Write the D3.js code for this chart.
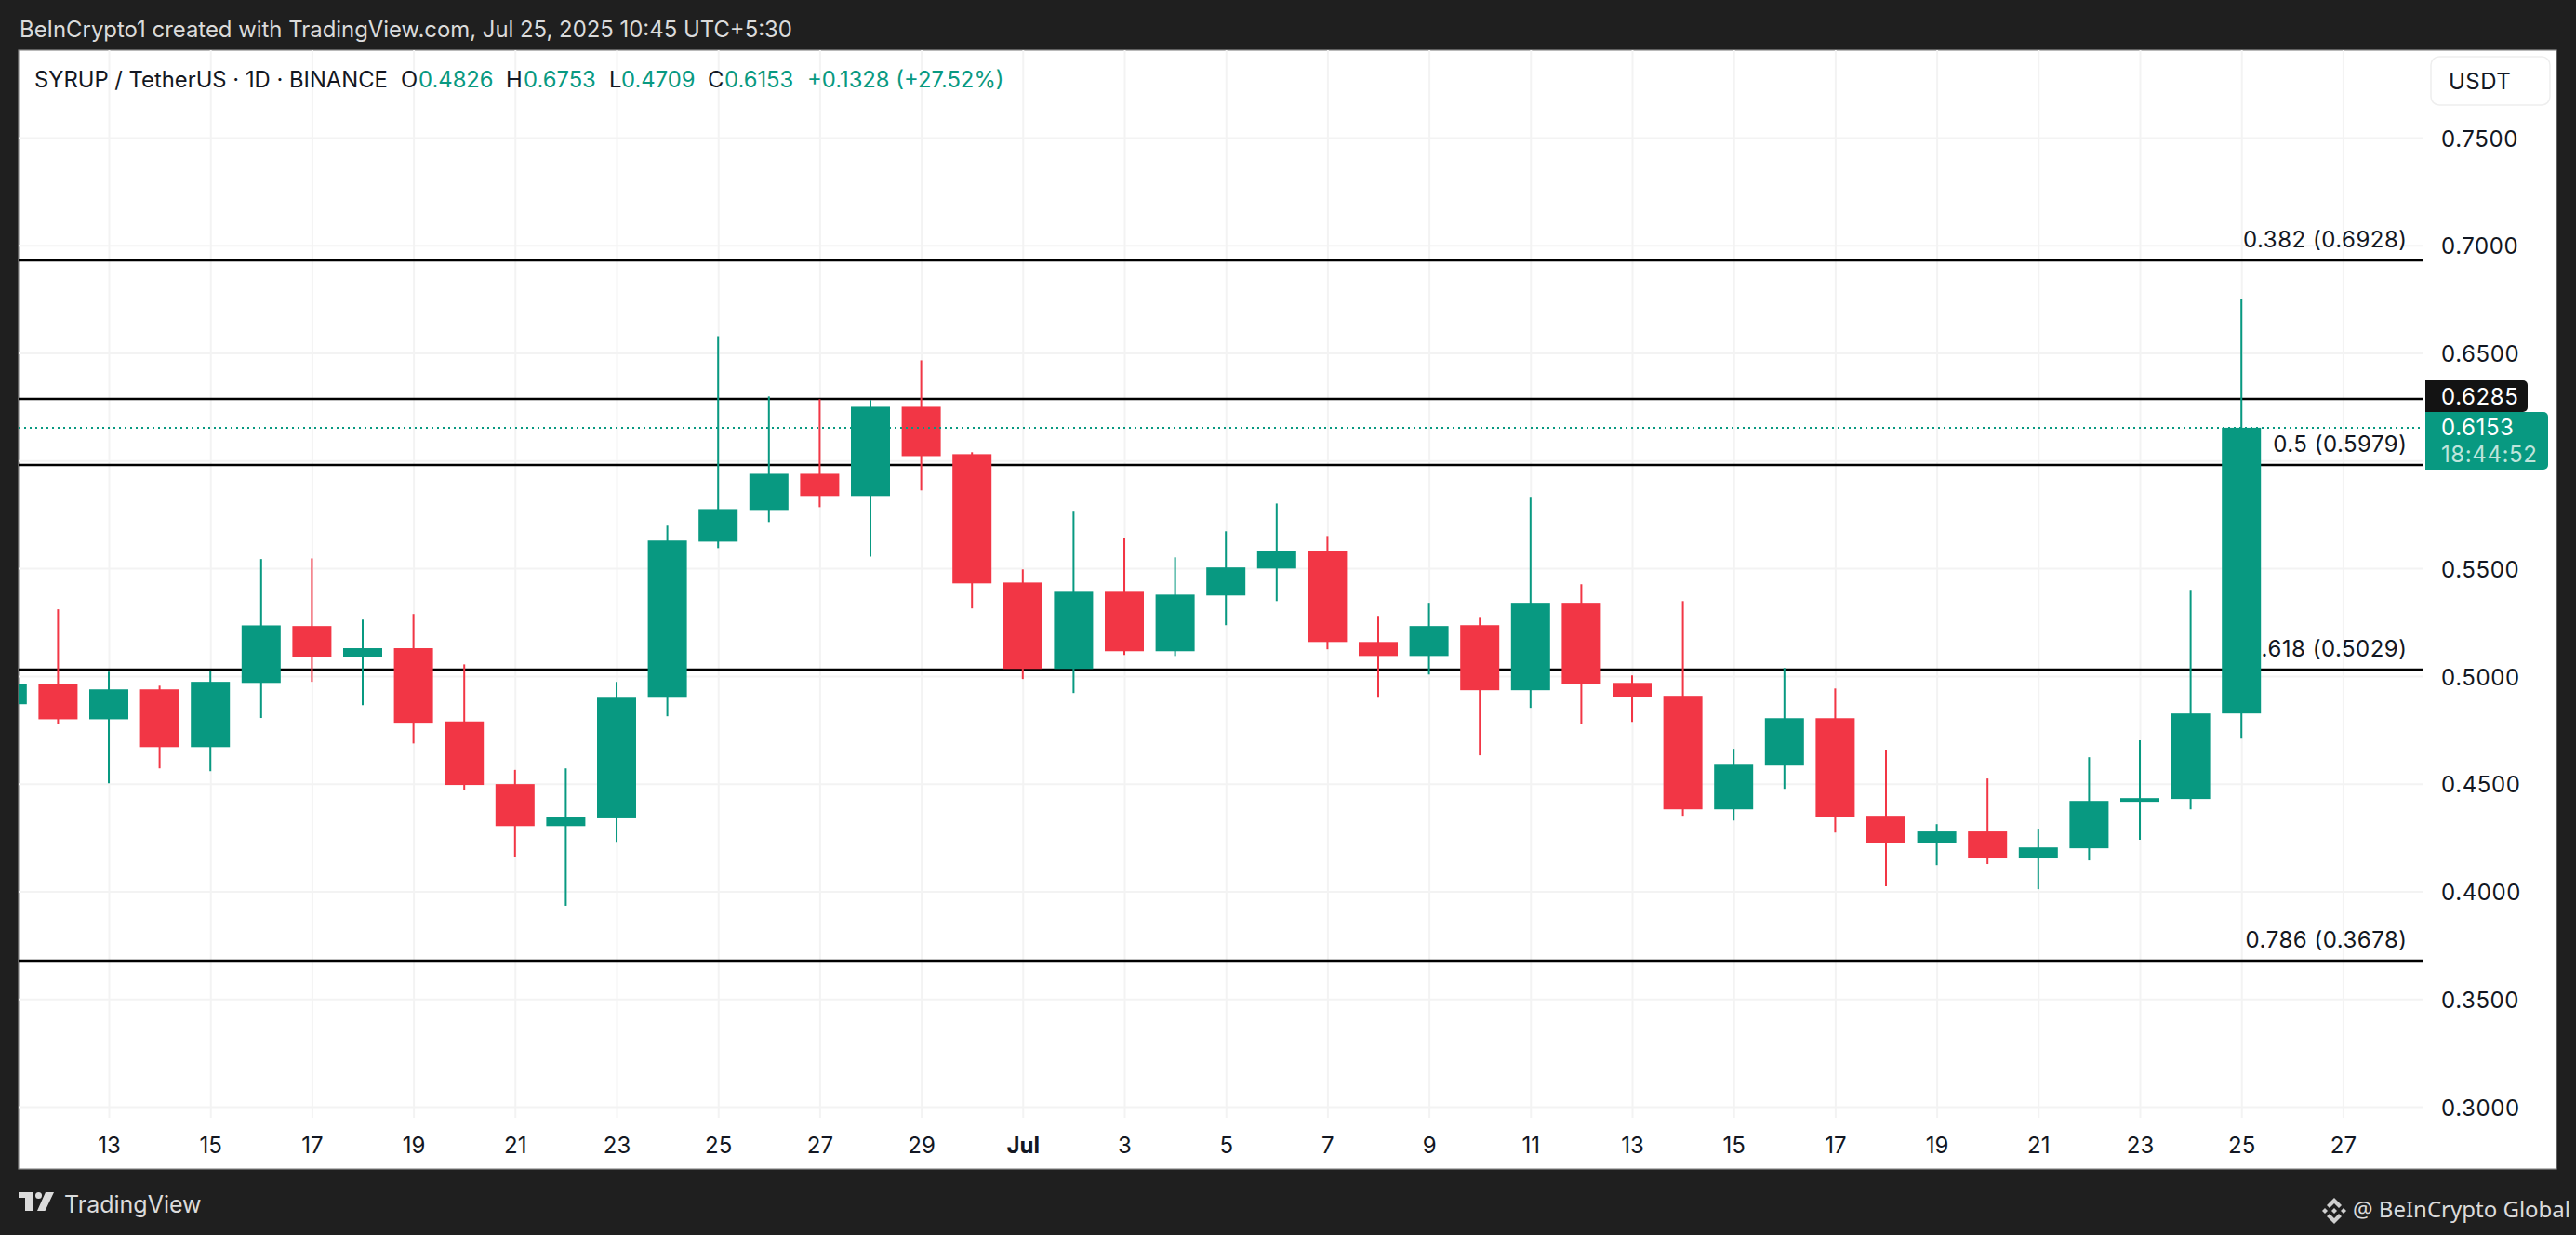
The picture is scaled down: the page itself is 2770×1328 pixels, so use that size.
<!DOCTYPE html>
<html>
<head>
<meta charset="utf-8">
<script src="https://cdn.jsdelivr.net/npm/d3@7"></script>
<style>
html, body { margin: 0; padding: 0; background: #1f1f1f; }
svg { display: block; }
text { font-family: Inter, sans-serif; }
</style>
</head>
<body>
<script>
// one entry per daily candle, Jun 11 .. Jul 25 2025
var days = ["Jun 11","Jun 12","Jun 13","Jun 14","Jun 15","Jun 16","Jun 17","Jun 18","Jun 19","Jun 20",
"Jun 21","Jun 22","Jun 23","Jun 24","Jun 25","Jun 26","Jun 27","Jun 28","Jun 29","Jun 30",
"Jul 1","Jul 2","Jul 3","Jul 4","Jul 5","Jul 6","Jul 7","Jul 8","Jul 9","Jul 10",
"Jul 11","Jul 12","Jul 13","Jul 14","Jul 15","Jul 16","Jul 17","Jul 18","Jul 19","Jul 20",
"Jul 21","Jul 22","Jul 23","Jul 24","Jul 25"];
var opens = [0.4869,0.4964,0.4799,0.4938,0.4670,0.4968,0.5232,0.5086,0.5129,0.4789,
0.4498,0.4303,0.4339,0.4899,0.5624,0.5771,0.5939,0.5836,0.6250,0.6030,
0.5434,0.5033,0.5391,0.5115,0.5374,0.5499,0.5581,0.5158,0.5093,0.5236,
0.4934,0.5340,0.4968,0.4908,0.4381,0.4584,0.4804,0.4351,0.4226,0.4278,
0.4153,0.4200,0.4416,0.4429,0.4826];
var highs = [0.4980,0.5310,0.5020,0.4955,0.5026,0.5543,0.5546,0.5262,0.5288,0.5054,
0.4564,0.4571,0.4973,0.5698,0.6578,0.6298,0.6285,0.6281,0.6466,0.6039,
0.5495,0.5763,0.5642,0.5551,0.5672,0.5801,0.5650,0.5279,0.5340,0.5270,
0.5832,0.5426,0.5003,0.5348,0.4662,0.5037,0.4942,0.4658,0.4312,0.4524,
0.4291,0.4623,0.4701,0.5400,0.6753];
var lows = [0.4840,0.4775,0.4502,0.4571,0.4558,0.4805,0.4973,0.4865,0.4687,0.4472,
0.4161,0.3933,0.4230,0.4813,0.5594,0.5715,0.5784,0.5555,0.5862,0.5314,
0.4986,0.4921,0.5098,0.5093,0.5236,0.5348,0.5124,0.4899,0.5007,0.4632,
0.4852,0.4778,0.4787,0.4351,0.4329,0.4476,0.4273,0.4023,0.4122,0.4127,
0.4010,0.4144,0.4239,0.4381,0.4709];
var closes = [0.4964,0.4799,0.4938,0.4670,0.4973,0.5235,0.5086,0.5129,0.4783,0.4494,
0.4303,0.4343,0.4899,0.5629,0.5775,0.5939,0.5836,0.6250,0.6021,0.5430,
0.5033,0.5391,0.5115,0.5378,0.5504,0.5581,0.5158,0.5093,0.5232,0.4934,
0.5340,0.4964,0.4904,0.4381,0.4588,0.4804,0.4347,0.4226,0.4278,0.4153,
0.4204,0.4420,0.4433,0.4826,0.6153];

var tickIndexes = [2,4,6,8,10,12,14,16,18,20,22,24,26,28,30,32,34,36,38,40,42,44,46];
var tickLabels = ["13","15","17","19","21","23","25","27","29","Jul","3","5","7","9","11","13","15","17","19","21","23","25","27"];
var gridPrices = [0.75,0.70,0.65,0.60,0.55,0.50,0.45,0.40,0.35,0.30];
var axisPrices = [0.75,0.70,0.65,0.55,0.50,0.45,0.40,0.35,0.30];

var fibNames = ["0.382","0.5","0.618","0.786"];
var fibPrices = [0.6928,0.5979,0.5029,0.3678];
var levelPrice = 0.6285;
var lastPrice = 0.6153;
var countdown = "18:44:52";

var GREEN = "#089981", RED = "#f23645", GRID = "#f3f3f3", DARK = "#1f1f1f";
var LEFT = 20, RIGHT = 2606, PANEL_R = 2749, TOP = 54, BOTTOM = 1257, AXIS_Y = 1202;
var BODY_W = 42;

var svg = d3.select("body").append("svg").attr("width", 2770).attr("height", 1328);

var x = d3.scaleLinear().domain([0, 46]).range([7.8, 2519.4]);
var y = d3.scaleLinear().domain([0.30, 0.75]).range([1190, 148]);

svg.append("rect").attr("width", 2770).attr("height", 1328).attr("fill", DARK);
svg.append("rect").attr("x", LEFT).attr("y", TOP).attr("width", PANEL_R - LEFT).attr("height", BOTTOM - TOP)
    .attr("fill", "#fff").attr("stroke", "#8c8c8c").attr("stroke-width", 1.2);

svg.append("clipPath").attr("id", "pane").append("rect")
    .attr("x", LEFT).attr("y", TOP).attr("width", RIGHT - LEFT).attr("height", BOTTOM - TOP);

// grid
var grid = svg.append("g");
grid.append("g").attr("transform", "translate(" + LEFT + ",0)")
    .call(d3.axisRight(y).tickValues(gridPrices).tickSize(RIGHT - LEFT).tickFormat(""))
    .call(function(g){ g.select(".domain").remove(); })
    .selectAll("line").attr("stroke", GRID).attr("stroke-width", 2);

// x axis, the long ticks are the vertical grid
var xAxis = svg.append("g").attr("transform", "translate(0," + AXIS_Y + ")")
    .call(d3.axisBottom(x).tickValues(tickIndexes).tickSizeInner(TOP - AXIS_Y).tickSizeOuter(0).tickPadding(0)
        .tickFormat(function(d, i){ return tickLabels[i]; }));
xAxis.select(".domain").remove();
xAxis.selectAll("line").attr("stroke", GRID).attr("stroke-width", 2);
xAxis.selectAll("text")
    .attr("y", 30).attr("dy", "0.35em")
    .attr("fill", "#131722").attr("font-size", 24).attr("font-family", "Inter, sans-serif")
    .attr("font-weight", function(d, i){ return tickLabels[i] === "Jul" ? 700 : 400; });

// y axis labels
var yAxis = svg.append("g").attr("transform", "translate(2625,0)")
    .call(d3.axisRight(y).tickValues(axisPrices).tickSize(0).tickPadding(0)
        .tickFormat(function(d){ return d.toFixed(4); }));
yAxis.select(".domain").remove();
yAxis.selectAll("text")
    .attr("dy", "0.38em")
    .attr("fill", "#131722").attr("font-size", 24).attr("font-family", "Inter, sans-serif")
    .style("letter-spacing", "0.6px");

// fib labels sit under the candles
svg.append("g").selectAll("text").data(fibPrices).join("text")
    .attr("x", 2588.5).attr("y", function(d){ return y(d) - 22.5; }).attr("dy", "0.35em")
    .attr("text-anchor", "end").attr("font-size", 24).attr("fill", "#131722")
    .style("letter-spacing", "0.5px")
    .text(function(d, i){ return fibNames[i] + " (" + d.toFixed(4) + ")"; });

// fib and level lines, snapped to whole pixels so they stay solid black
svg.append("g").selectAll("line").data(fibPrices.concat([levelPrice])).join("line")
    .attr("x1", LEFT).attr("x2", RIGHT)
    .attr("y1", function(d){ return Math.round(y(d)); }).attr("y2", function(d){ return Math.round(y(d)); })
    .attr("stroke", "#000").attr("stroke-width", 2.4);

// candles
var candles = svg.append("g").attr("clip-path", "url(#pane)").selectAll("g").data(days).join("g");
function candleColor(d, i){ return closes[i] >= opens[i] ? GREEN : RED; }

candles.append("line")
    .attr("x1", function(d, i){ return x(i); }).attr("x2", function(d, i){ return x(i); })
    .attr("y1", function(d, i){ return y(highs[i]); }).attr("y2", function(d, i){ return y(lows[i]); })
    .attr("stroke", candleColor).attr("stroke-width", 2);

candles.append("rect")
    .attr("x", function(d, i){ return x(i) - BODY_W / 2; }).attr("width", BODY_W)
    .attr("y", function(d, i){ return y(Math.max(opens[i], closes[i])); })
    .attr("height", function(d, i){ return Math.abs(y(opens[i]) - y(closes[i])); })
    .attr("fill", candleColor);

// last price dotted line
svg.append("line").attr("x1", LEFT).attr("x2", 2603)
    .attr("y1", Math.round(y(lastPrice))).attr("y2", Math.round(y(lastPrice)))
    .attr("stroke", GREEN).attr("stroke-width", 2).attr("stroke-dasharray", "2 4");

// price tags
function rightRound(x0, y0, w, h, r){
    return "M" + x0 + "," + y0 + "h" + (w - r) + "a" + r + "," + r + " 0 0 1 " + r + "," + r +
        "v" + (h - 2 * r) + "a" + r + "," + r + " 0 0 1 " + (-r) + "," + r + "h" + (r - w) + "z";
}
svg.append("path").attr("d", rightRound(2608, 409, 110, 34, 5)).attr("fill", "#131313");
svg.append("path").attr("d", rightRound(2608, 443, 132, 62, 5)).attr("fill", GREEN);
svg.append("text").attr("x", 2625).attr("y", 426).attr("dy", "0.38em").attr("font-size", 24).attr("fill", "#fff")
    .style("letter-spacing", "0.6px").text(levelPrice.toFixed(4));
svg.append("text").attr("x", 2625).attr("y", 459).attr("dy", "0.38em").attr("font-size", 24).attr("fill", "#fff")
    .style("letter-spacing", "0.6px").text(lastPrice.toFixed(4));
svg.append("text").attr("x", 2625).attr("y", 487.5).attr("dy", "0.38em").attr("font-size", 24).attr("fill", "#bfe4db")
    .style("letter-spacing", "0.6px").text(countdown);

// currency button
svg.append("rect").attr("x", 2614).attr("y", 61).attr("width", 128).attr("height", 52).attr("rx", 9)
    .attr("fill", "#fff").attr("stroke", "#eeeeee").attr("stroke-width", 1.5);
svg.append("text").attr("x", 2633).attr("y", 87.5).attr("dy", "0.37em").attr("font-size", 24).attr("fill", "#131722")
    .style("letter-spacing", "0.5px").text("USDT");

// header and legend
svg.append("text").attr("x", 21).attr("y", 32).attr("dy", "0.35em").attr("font-size", 23.9).attr("fill", "#dbdbdb")
    .text("BeInCrypto1 created with TradingView.com, Jul 25, 2025 10:45 UTC+5:30");

var legendText = ["SYRUP / TetherUS · 1D · BINANCE","O","0.4826","H","0.6753","L","0.4709","C","0.6153","+0.1328 (+27.52%)"];
var legendX = [37,431,450,544,563,655,668,761,779,868];
svg.append("g").selectAll("text").data(legendText).join("text")
    .attr("x", function(d, i){ return legendX[i]; }).attr("y", 86).attr("dy", "0.35em")
    .attr("font-size", 23.8)
    .attr("fill", function(d, i){ return (i === 0 || i % 2 === 1) && i < 9 ? "#131722" : GREEN; })
    .text(function(d){ return d; });

// footer
svg.append("path").attr("fill", "#dbdbdb")
    .attr("d", "M20,1282h16v20h-9v-14h-7z M49,1282h9l-9.500,20h-8.500z");
svg.append("circle").attr("cx", 41.5).attr("cy", 1285.5).attr("r", 3.5).attr("fill", "#dbdbdb");
svg.append("text").attr("x", 69).attr("y", 1295).attr("dy", "0.35em").attr("font-size", 25).attr("fill", "#dbdbdb").text("TradingView");

var icon = svg.append("g").attr("fill", "#cfcfcf").attr("transform", "translate(2510,1302)");
icon.append("path").attr("d", "M0,-14l8,8l-3,3l-5,-5l-5,5l-3,-3z");
icon.append("path").attr("d", "M0,14l8,-8l-3,-3l-5,5l-5,-5l-3,3z");
icon.append("path").attr("d", "M0,-3l3,3l-3,3l-3,-3z");
icon.append("path").attr("d", "M-10,-3l3,3l-3,3l-3,-3z");
icon.append("path").attr("d", "M10,-3l3,3l-3,3l-3,-3z");
svg.append("text").attr("x", 2530).attr("y", 1301).attr("dy", "0.35em").attr("font-size", 24)
    .style("font-family", "'Noto Sans'").attr("fill", "#dbdbdb").text("@ BeInCrypto Global");
</script>
</body>
</html>
